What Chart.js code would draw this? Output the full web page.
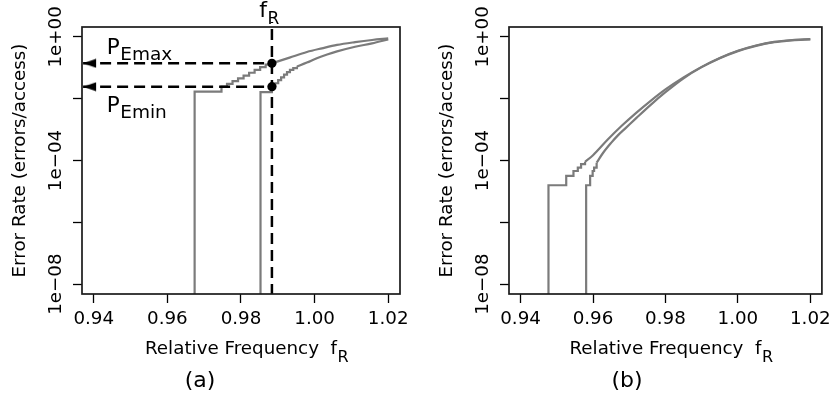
<!DOCTYPE html>
<html>
<head>
<meta charset="utf-8">
<script src="https://cdn.jsdelivr.net/npm/chart.js@4.4.1/dist/chart.umd.min.js"></script>
<style>
  body { margin: 0; background: #fff; }
  #wrap { position: relative; width: 836px; height: 404px; }
  #panelA { position: absolute; left: 0; top: 0; }
  #panelB { position: absolute; left: 427px; top: 0; }
</style>
</head>
<body>
<div id="wrap">
  <canvas id="panelA" width="418" height="404"></canvas>
  <canvas id="panelB" width="409" height="404"></canvas>
</div>
<script>
const FONT = '"DejaVu Sans", "Liberation Sans", sans-serif';
const TEXT_SIZE = 18.3;
Chart.defaults.font.family = FONT;
Chart.defaults.font.size = TEXT_SIZE;
Chart.defaults.color = '#000';

// axes
const xTickValues = [0.94, 0.96, 0.98, 1.00, 1.02];
const xTickLabels = ['0.94', '0.96', '0.98', '1.00', '1.02'];
const yTickValues = [1, 1e-2, 1e-4, 1e-6, 1e-8];
const yTickLabels = ['1e+00', '', '1e\u221204', '', '1e\u221208'];

// panel (a) - staircase parts start below the axis so they rise from the frame
const aUpperStepX = [0.9674, 0.9674, 0.9747, 0.9762, 0.9777, 0.9792, 0.9807, 0.9822, 0.9837, 0.9852, 0.9867, 0.9884];
const aUpperStepRate = [1e-10, 0.0170, 0.0245, 0.0302, 0.0372, 0.0457, 0.0562, 0.0692, 0.0851, 0.1047, 0.126, 0.140];
const aUpperCurveX = [0.9884, 0.9932, 0.9979, 1.002, 1.0061, 1.011, 1.0156, 1.020];
const aUpperCurveRate = [0.140, 0.214, 0.324, 0.427, 0.550, 0.676, 0.794, 0.891];

const aLowerStepX = [0.9853, 0.9853, 0.9884, 0.9893, 0.9901, 0.9909, 0.9917, 0.9925, 0.9933, 0.9942, 0.9952];
const aLowerStepRate = [1e-10, 0.0162, 0.0257, 0.0316, 0.0398, 0.0490, 0.0603, 0.0724, 0.0851, 0.0977, 0.110];
const aLowerCurveX = [0.9952, 0.9979, 1.0006, 1.0034, 1.0061, 1.011, 1.0156, 1.020];
const aLowerCurveRate = [0.110, 0.148, 0.204, 0.269, 0.339, 0.479, 0.617, 0.832];

const fR = 0.9884;
const peMax = 0.140;
const peMin = 0.0244;
const arrowTipX = 0.9371;
const rateTop = 3.2;

// panel (b)
const bLeftStepX = [0.9477, 0.9477, 0.9526, 0.9546, 0.9558, 0.9567, 0.9578];
const bLeftStepRate = [1e-10, 1.58e-5, 3.16e-5, 4.57e-5, 5.89e-5, 7.59e-5, 9.12e-5];
const bLeftCurveX = [0.9578, 0.960, 0.964, 0.968, 0.972, 0.976, 0.980, 0.985, 0.990, 0.995, 1.000, 1.005, 1.010, 1.015, 1.020];
const bLeftCurveRate = [9.12e-5, 1.48e-4, 4.68e-4, 1.35e-3, 3.55e-3, 8.71e-3, 0.0200, 0.0490, 0.107, 0.209, 0.355, 0.525, 0.692, 0.794, 0.851];

const bRightStepX = [0.9581, 0.9581, 0.9592, 0.9599, 0.9603, 0.9610];
const bRightStepRate = [1e-10, 1.58e-5, 3.16e-5, 4.57e-5, 5.89e-5, 8.51e-5];
const bRightCurveX = [0.9610, 0.9628, 0.9650, 0.9670, 0.9690, 0.9720, 0.9760, 0.980, 0.985, 0.990, 0.995, 1.000, 1.005, 1.010, 1.015, 1.020];
const bRightCurveRate = [8.51e-5, 1.78e-4, 3.72e-4, 6.76e-4, 1.12e-3, 2.40e-3, 6.46e-3, 0.0162, 0.0457, 0.105, 0.204, 0.347, 0.513, 0.676, 0.776, 0.832];

const pts = (xs, ys) => xs.map((x, i) => ({x: x, y: ys[i]}));

const GRAY = '#7b7b7b';
// 'before' = run along at the old level, then jump (like R's type="s")
const stepLine = (xs, ys) => ({
  data: pts(xs, ys), borderColor: GRAY, borderWidth: 2.2, pointRadius: 0, stepped: 'before', order: 3
});
const smoothLine = (xs, ys) => ({
  data: pts(xs, ys), borderColor: GRAY, borderWidth: 2.2, pointRadius: 0, cubicInterpolationMode: 'monotone', order: 3
});

// filled arrow head, tip in the middle of the image
function makeArrowHead() {
  const c = document.createElement('canvas');
  c.width = 28; c.height = 10;
  const g = c.getContext('2d');
  g.fillStyle = '#000';
  g.beginPath();
  g.moveTo(14, 5); g.lineTo(27, 0.6); g.lineTo(27, 9.4);
  g.closePath(); g.fill();
  return c;
}
const arrowHead = makeArrowHead();

function drawSub(ctx, x, y, base, sub, baseSize, subSize, drop, centered) {
  ctx.textAlign = 'left';
  ctx.textBaseline = 'alphabetic';
  ctx.font = baseSize + 'px ' + FONT;
  const wb = ctx.measureText(base).width;
  ctx.font = subSize + 'px ' + FONT;
  const ws = ctx.measureText(sub).width;
  const x0 = centered ? x - (wb + ws) / 2 : x;
  ctx.font = baseSize + 'px ' + FONT;
  ctx.fillText(base, x0, y);
  ctx.font = subSize + 'px ' + FONT;
  ctx.fillText(sub, x0 + wb + 0.5, y + drop);
}

const X_TITLE = 'Relative Frequency  f';
const X_TITLE_PAD = 7;

const frameNotes = {
  id: 'frameNotes',
  afterDatasetsDraw(chart, args, opts) {
    const {ctx, chartArea: a, scales} = chart;
    ctx.save();
    ctx.strokeStyle = '#1a1a1a';
    ctx.lineWidth = 1.7;
    ctx.strokeRect(a.left, a.top, a.right - a.left, a.bottom - a.top);

    // subscript R of the x axis title
    ctx.fillStyle = '#000';
    ctx.font = TEXT_SIZE + 'px ' + FONT;
    const w = ctx.measureText(X_TITLE).width;
    const ty = scales.x.bottom - (TEXT_SIZE * 1.2 / 2 + X_TITLE_PAD);
    ctx.font = '16px ' + FONT;
    ctx.textAlign = 'left';
    ctx.textBaseline = 'middle';
    ctx.fillText('R', (a.left + a.right) / 2 + w / 2 + 0.5, ty + 8);

    if (opts.marks) {
      const px = scales.x.getPixelForValue(fR);
      const yHi = scales.y.getPixelForValue(peMax);
      const yLo = scales.y.getPixelForValue(peMin);
      const lx = scales.x.getPixelForValue(0.94) + 13;
      drawSub(ctx, px - 3, a.top - 10, 'f', 'R', 22, 17, 6.5, true);
      drawSub(ctx, lx, yHi - 9.5, 'P', 'Emax', 21.5, 18.5, 6.5, false);
      drawSub(ctx, lx, yLo + 25, 'P', 'Emin', 21.5, 18.5, 6, false);
    }
    ctx.restore();
  }
};

function makeOptions(label, rightPad, marks) {
  return {
    responsive: false,
    animation: false,
    events: [],
    layout: { padding: { left: 0, top: 27, right: rightPad, bottom: 0 } },
    plugins: {
      legend: { display: false },
      tooltip: { enabled: false },
      title: {
        display: true, text: label, position: 'bottom', color: '#000',
        font: { size: 22, weight: 'normal' }, padding: { top: 0, bottom: 10 }
      },
      frameNotes: { marks: marks }
    },
    scales: {
      x: {
        type: 'linear', position: 'bottom', min: 0.9368, max: 1.0232,
        afterBuildTicks: s => { s.ticks = xTickValues.map(v => ({value: v})); },
        afterFit: s => { s.height = 110 - 36.4; },
        ticks: { callback: (v, i) => xTickLabels[i], font: { size: TEXT_SIZE }, color: '#000', padding: 5, maxRotation: 0, autoSkip: false },
        grid: { drawOnChartArea: false, tickLength: 9, tickColor: '#000', tickWidth: 1.3 },
        border: { display: false },
        title: { display: true, text: X_TITLE, font: { size: TEXT_SIZE }, color: '#000', padding: { top: 0, bottom: X_TITLE_PAD } }
      },
      y: {
        type: 'logarithmic', position: 'left', min: 4.79e-9, max: 2.089,
        afterBuildTicks: s => { s.ticks = yTickValues.map(v => ({value: v})); },
        afterFit: s => { s.width = 82; },
        ticks: { callback: (v, i) => yTickLabels[i], font: { size: TEXT_SIZE }, color: '#000', padding: -14, minRotation: 90, maxRotation: 90, crossAlign: 'center', autoSkip: false },
        grid: { drawOnChartArea: false, tickLength: 9, tickColor: '#000', tickWidth: 1.3 },
        border: { display: false },
        title: { display: true, text: 'Error Rate (errors/access)', font: { size: TEXT_SIZE }, color: '#000', padding: { top: 9, bottom: 0 } }
      }
    }
  };
}

const dashed = (data) => ({
  data: data, borderColor: '#000', borderWidth: 2.5, borderDash: [11, 6],
  pointRadius: [5, 0], pointStyle: [arrowHead, 'circle'], pointBackgroundColor: '#000', pointBorderWidth: 0,
  order: 2
});

new Chart(document.getElementById('panelA'), {
  type: 'line',
  data: {
    datasets: [
      { type: 'scatter', data: [{x: fR, y: peMax}, {x: fR, y: peMin}], pointRadius: 4.6, pointBackgroundColor: '#000', pointBorderWidth: 0, showLine: false, order: 1 },
      dashed([{x: arrowTipX, y: peMax}, {x: fR, y: peMax}]),
      dashed([{x: arrowTipX, y: peMin}, {x: fR, y: peMin}]),
      { data: [{x: fR, y: 1e-10}, {x: fR, y: rateTop}], borderColor: '#000', borderWidth: 2.5, borderDash: [11, 6], pointRadius: 0, clip: { left: 0, top: 5, right: 0, bottom: 0 }, order: 2 },
      stepLine(aUpperStepX, aUpperStepRate),
      smoothLine(aUpperCurveX, aUpperCurveRate),
      stepLine(aLowerStepX, aLowerStepRate),
      smoothLine(aLowerCurveX, aLowerCurveRate)
    ]
  },
  options: makeOptions('(a)', 18, true),
  plugins: [frameNotes]
});

new Chart(document.getElementById('panelB'), {
  type: 'line',
  data: {
    datasets: [
      stepLine(bLeftStepX, bLeftStepRate),
      smoothLine(bLeftCurveX, bLeftCurveRate),
      stepLine(bRightStepX, bRightStepRate),
      smoothLine(bRightCurveX, bRightCurveRate)
    ]
  },
  options: makeOptions('(b)', 9, false),
  plugins: [frameNotes]
});
</script>
</body>
</html>
